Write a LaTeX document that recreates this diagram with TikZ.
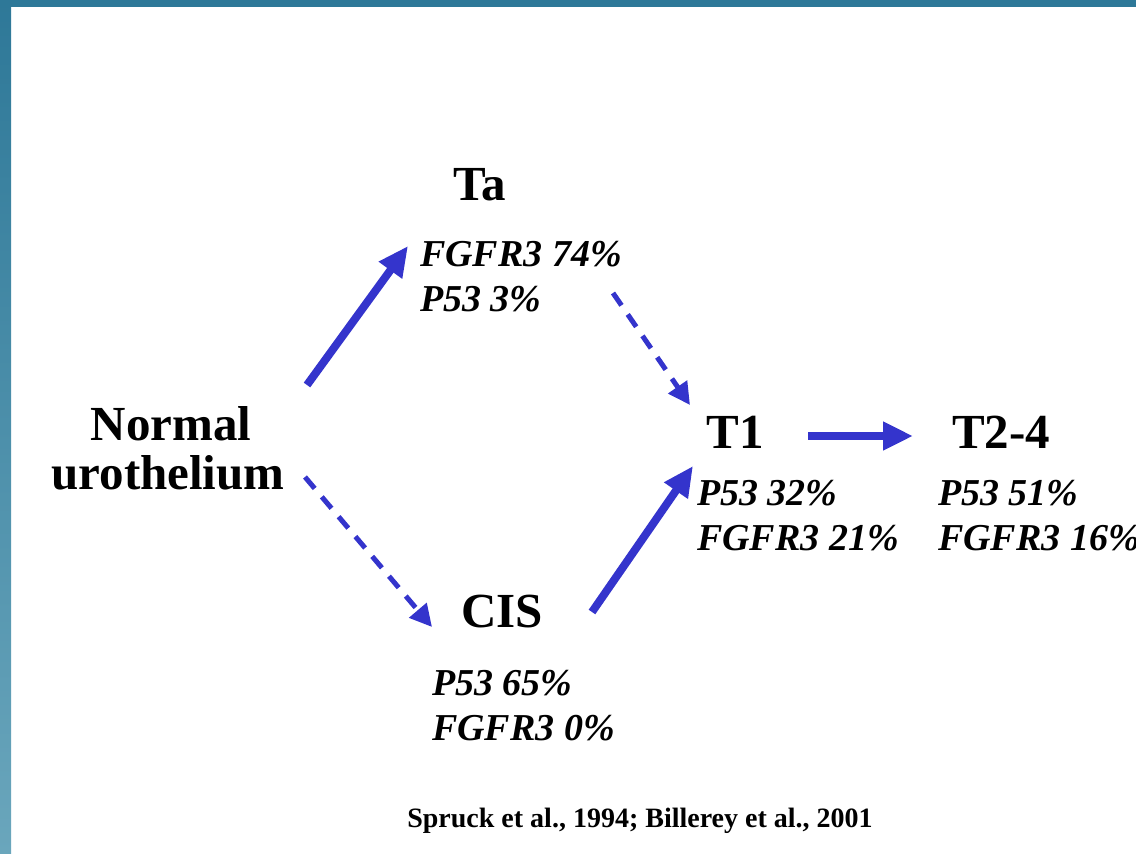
\documentclass[tikz,border=0pt]{standalone}
\usepackage{fontspec}
\setmainfont{Liberation Serif}
\usetikzlibrary{arrows.meta}
\definecolor{slideblue}{RGB}{46,120,152}
\definecolor{slidelight}{RGB}{106,166,188}
\definecolor{arrowblue}{RGB}{52,52,204}
\begin{document}
\begin{tikzpicture}[x=1pt,y=-1pt,
  stage/.style={font=\fontsize{49}{40}\selectfont\bfseries, inner sep=0pt, anchor=base},
  stat/.style={font=\fontsize{38}{44}\selectfont\bfseries\itshape, inner sep=0pt, anchor=base west},
  cite/.style={font=\fontsize{28}{30}\selectfont\bfseries, inner sep=0pt, anchor=base},
  solidarrow/.style={draw=arrowblue, line width=8pt, -{Triangle[length=30pt,width=27pt]}, arrowblue},
  dasharrow/.style={draw=arrowblue, line width=5pt, dash pattern=on 15pt off 11pt, -{Triangle[length=22pt,width=22pt]}, arrowblue}]
  % slide frame
  \useasboundingbox (0,0) rectangle (1136,854);
  \fill[white] (0,0) rectangle (1136,854);
  \fill[slideblue] (0,0) rectangle (1136,7);
  \shade[top color=slideblue, bottom color=slidelight] (0,0) rectangle (11,854);

  % stages
  \node[stage] (normal1) at (171,440) {Normal};
  \node[stage] (normal2) at (168,489) {urothelium};
  \node[stage] (ta) at (480,200) {Ta};
  \node[stage] (t1) at (735,448) {T1};
  \node[stage] (t24) at (1001,448) {T2-4};
  \node[stage] (cis) at (502,627) {CIS};

  % mutation frequencies
  \node[stat] (ta1) at (420,266) {FGFR3 74\%};
  \node[stat] (ta2) at (420,311) {P53 3\%};
  \node[stat] (t11) at (697,505) {P53 32\%};
  \node[stat] (t12) at (697,550) {FGFR3 21\%};
  \node[stat] (t241) at (938,505) {P53 51\%};
  \node[stat] (t242) at (938,550) {FGFR3 16\%};
  \node[stat] (cis1) at (432,695) {P53 65\%};
  \node[stat] (cis2) at (432,740) {FGFR3 0\%};

  % reference
  \node[cite] (ref) at (640,827) {Spruck et al., 1994; Billerey et al., 2001};

  % arrow end points
  \coordinate (nTa) at (307,385);
  \coordinate (taIn) at (408,246);
  \coordinate (taOut) at (613,293);
  \coordinate (t1InA) at (690,405);
  \coordinate (nCis) at (305,477);
  \coordinate (cisIn) at (432,627);
  \coordinate (cisOut) at (592,612);
  \coordinate (t1InB) at (693,466);
  \coordinate (t1Out) at (808,436);
  \coordinate (t24In) at (913,436);

  % progression arrows
  \draw[solidarrow] (nTa) -- (taIn);
  \draw[dasharrow] (taOut) -- (t1InA);
  \draw[dasharrow] (nCis) -- (cisIn);
  \draw[solidarrow] (cisOut) -- (t1InB);
  \draw[solidarrow] (t1Out) -- (t24In);
\end{tikzpicture}
\end{document}
